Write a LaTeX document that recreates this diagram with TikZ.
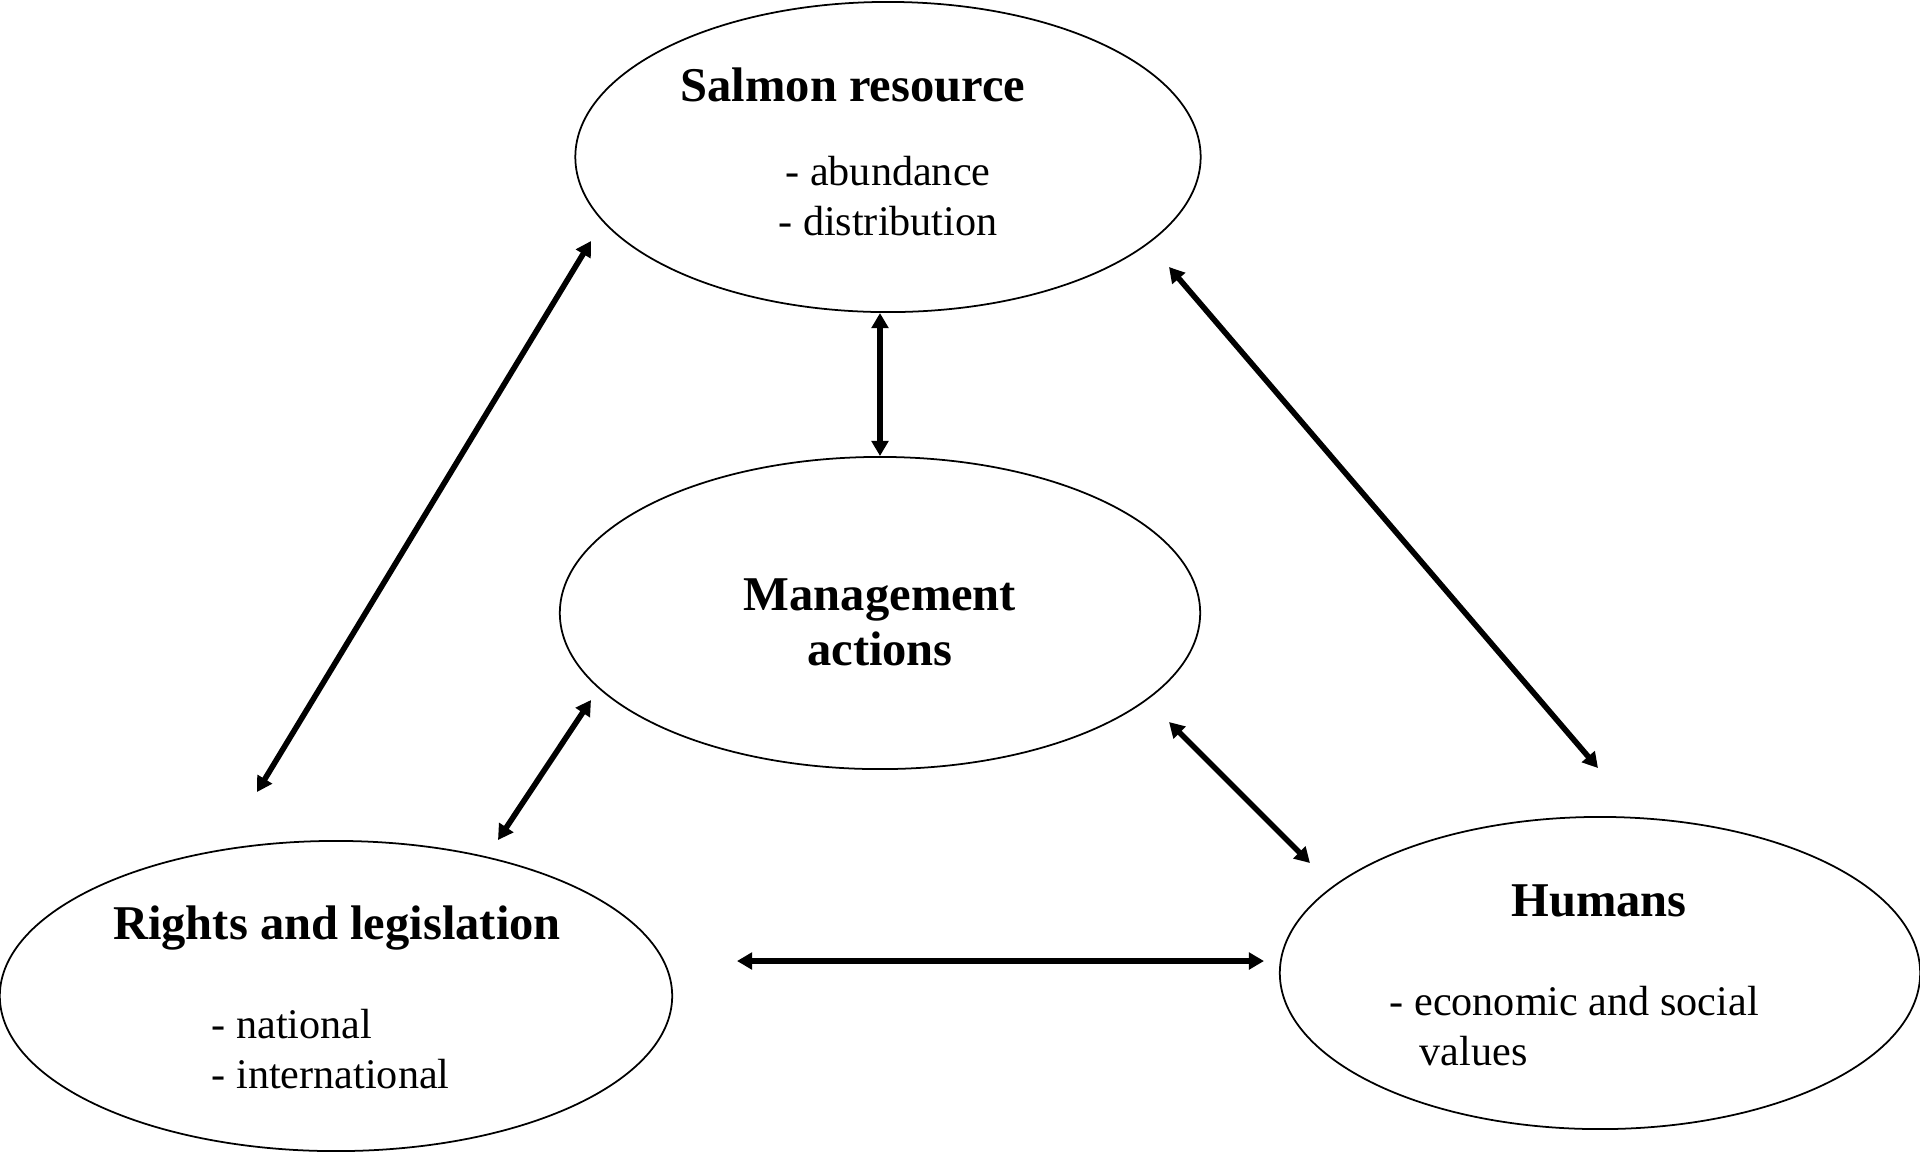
\documentclass[tikz,border=0pt]{standalone}
\usepackage{fontspec}
\setmainfont{Liberation Serif}
\usetikzlibrary{arrows.meta,shapes.geometric}

\tikzset{
  blob/.style={ellipse, draw, line width=0.5pt, inner sep=0pt},
  link/.style={{Triangle[length=4.3pt,width=4.7pt]}-{Triangle[length=4.3pt,width=4.7pt]}, line width=1.6pt},
  head/.style={inner sep=0pt, font=\fontsize{13.8}{15.6}\selectfont\bfseries},
  items/.style={inner sep=0pt, font=\fontsize{12}{14.2}\selectfont},
}

\begin{document}
\begin{tikzpicture}[x=0.01cm, y=-0.01cm]
\useasboundingbox (0,0) rectangle (1920,1153);

% the four fields
\node[blob, minimum width=6.25cm, minimum height=3.10cm] (salmon) at (888,157) {};
\node[blob, minimum width=6.40cm, minimum height=3.12cm] (manage) at (880,613) {};
\node[blob, minimum width=6.72cm, minimum height=3.10cm] (rights) at (336,996) {};
\node[blob, minimum width=6.40cm, minimum height=3.12cm] (humans) at (1600,973) {};

% texts (base = last line)
\node[head, anchor=base] (salmonT) at (853,101) {Salmon resource};
\node[items, align=center, anchor=base] (salmonL) at (888,235) {- abundance\\- distribution};
\node[head, align=center, anchor=base] (manageT) at (880,665) {Management\\actions};
\node[head, anchor=base] (rightsT) at (337,939) {Rights and legislation};
\node[items, align=left, anchor=base west] (rightsL) at (211,1088) {- national\\- international};
\node[head, anchor=base] (humansT) at (1599,916) {Humans};
\node[items, align=left, anchor=base west] (humansL) at (1389,1065) {- economic and social\\\hspace{8.5pt}values};

% arrow ends
\coordinate (salmon-l) at (591,241);
\coordinate (salmon-r) at (1169,267);
\coordinate (salmon-b) at (880,313);
\coordinate (manage-t) at (880,456);
\coordinate (manage-l) at (591,700);
\coordinate (manage-r) at (1169,722);
\coordinate (rights-t) at (257,792);
\coordinate (rights-tr) at (498,840);
\coordinate (rights-r) at (737,961);
\coordinate (humans-t) at (1598,768);
\coordinate (humans-tl) at (1310,863);
\coordinate (humans-l) at (1264,961);

\draw[link] (salmon-b) -- (manage-t);
\draw[link] (salmon-l) -- (rights-t);
\draw[link] (salmon-r) -- (humans-t);
\draw[link] (manage-l) -- (rights-tr);
\draw[link] (manage-r) -- (humans-tl);
\draw[link] (rights-r) -- (humans-l);
\end{tikzpicture}
\end{document}
